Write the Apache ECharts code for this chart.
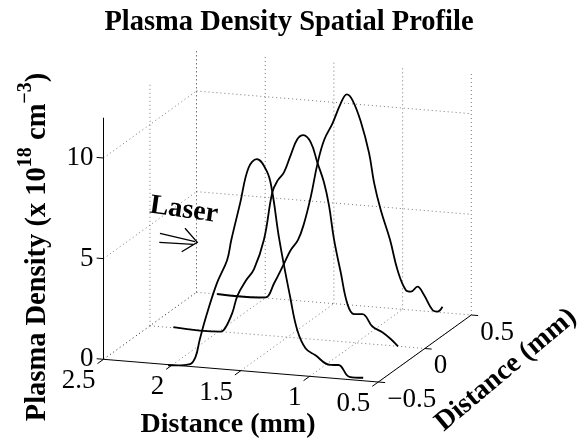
<!DOCTYPE html>
<html><head><meta charset="utf-8">
<style>html,body{margin:0;padding:0;background:#fff}#c{width:578px;height:438px}</style>
<script src="https://cdn.jsdelivr.net/npm/echarts@6/dist/echarts.min.js"></script>
</head><body><div id="c"></div>
<script>
// Data, as [distance along x (mm), density (1e18 cm^-3)]
const profileFront = [[2.03,-.03],[1.97,0],[1.87,.12],[1.83,.5],[1.8,1.36],[1.75,2.62],[1.675,4.24],[1.6,5.44],[1.57,6.45],[1.505,8.33],[1.445,10.1],[1.384,10.57],[1.31,9.99],[1.274,9.1],[1.22,6.65],[1.14,3.81],[1.09,2.25],[1.03,1.38],[.96,1.08],[.85,.65],[.79,.68],[.71,.14],[.61,.15]];
const profileMiddle = [[2.33,.03],[1.985,0],[1.95,.23],[1.9,1],[1.864,1.85],[1.803,2.63],[1.743,3.24],[1.67,4.77],[1.61,7.13],[1.573,7.72],[1.525,8.17],[1.476,9.06],[1.427,9.88],[1.384,10.1],[1.33,9.77],[1.282,8.8],[1.234,7.84],[1.197,6.7],[1.161,5.06],[1.112,3.44],[1.063,1.89],[1.015,1.42],[.954,1.45],[.881,.88],[.809,.63],[.748,.33],[.695,0]];
const profileBack = [[2.35,0],[2.044,0],[1.996,.03],[1.935,.77],[1.862,1.8],[1.814,2.49],[1.761,3.02],[1.717,3.87],[1.668,5.22],[1.619,6.9],[1.571,8.09],[1.51,8.95],[1.45,9.98],[1.406,10.45],[1.365,10.19],[1.304,9.15],[1.244,7.62],[1.207,6.15],[1.159,4.84],[1.091,3.39],[1.037,1.93],[.977,.97],[.94,.91],[.892,1.19],[.844,.8],[.782,.09],[.746,.03],[.71,.29]];
const profileDepths = [-0.5, 0, 0.5];
const xTicks = [2.5, 2, 1.5, 1, 0.5];
const yTicks = [-0.5, 0, 0.5];
const zTicks = [0, 5, 10];
const zTop = 12;
const xTickLabels = ['2.5','2','1.5','1','0.5'];
const yTickLabels = ['\u22120.5','0','0.5'];
const zTickLabels = ['0','5','10'];

// Oblique view of the 3D box
const view = {ox:103.5, oy:359.3, xx:137.4, xy:11.35, yx:93, yy:-67, zy:20.13};
function P(x,y,z){
  const a=2.5-x, b=y+0.5;
  return [view.ox+a*view.xx+b*view.yx, view.oy+a*view.xy+b*view.yy-z*view.zy];
}
const GRID='#555';
function seg(pts,color,width,type,z){
  return {type:'line',data:pts,symbol:'none',silent:true,animation:false,z:z||2,
    lineStyle:{color:color,width:width,type:type,cap:'butt'}};
}
const dash=[1,3];
const series=[];
const xMin=2.5,xMax=.5,yMin=-.5,yMax=.5;
// floor grid
xTicks.forEach(x=>{ if(x!==xMin) series.push(seg([P(x,yMin,0),P(x,yMax,0)],GRID,.8,dash)); });
series.push(seg([P(xMin,yMin,0),P(xMin,yMax,0)],'#222',1,dash));
yTicks.forEach(y=>{ if(y!==yMin) series.push(seg([P(xMin,y,0),P(xMax,y,0)],GRID,.8,dash)); });
// back wall and left wall
xTicks.forEach(x=>series.push(seg([P(x,yMax,0),P(x,yMax,zTop)],GRID,.8,dash)));
yTicks.forEach(y=>{ if(y!==yMin) series.push(seg([P(xMin,y,0),P(xMin,y,zTop)],GRID,.8,dash)); });
zTicks.forEach(z=>{ if(z>0){
  series.push(seg([P(xMin,yMin,z),P(xMin,yMax,z)],GRID,.8,dash));
  series.push(seg([P(xMin,yMax,z),P(xMax,yMax,z)],GRID,.8,dash));
}});
// axes
series.push(seg([P(xMin,yMin,0),P(xMax,yMin,0)],'#000',1,'solid',3));
series.push(seg([P(xMax,yMin,0),P(xMax,yMax,0)],'#000',1,'solid',3));
series.push(seg([P(xMin,yMin,0),P(xMin,yMin,zTop)],'#000',1,'solid',3));
// ticks
xTicks.forEach(x=>series.push(seg([P(x,yMin,0),P(x,yMin-.065,0)],'#000',1,'solid',3)));
yTicks.forEach(y=>series.push(seg([P(xMax,y,0),P(xMax-.05,y,0)],'#000',1,'solid',3)));
zTicks.forEach(z=>series.push(seg([P(xMin,yMin,z),P(xMin+.05,yMin,z)],'#000',1,'solid',3)));
// curves
[profileFront,profileMiddle,profileBack].forEach((c,i)=>{
  const s=seg(c.map(d=>P(d[0],profileDepths[i],d[1])),'#000',1.8,'solid',5);
  s.smooth=0.4; s.name='profile'+i; s.lineStyle.join='round';
  series.push(s);
});
// text
const TF='"Liberation Serif","Times New Roman",serif';
function labels(items){
  return {type:'scatter',silent:true,animation:false,symbolSize:1,itemStyle:{color:'transparent',opacity:1},z:6,
    data:items.map(t=>({value:t.pos,label:{show:true,position:'inside',formatter:t.text,color:'#000',
      fontFamily:TF,fontSize:t.size||27,fontWeight:t.bold?'bold':'normal',rotate:t.rotate||0,align:t.align||'center',verticalAlign:'middle',
      rich:t.rich}}))};
}
const items=[];
xTicks.forEach((x,i)=>{const p=P(x,yMin,0);items.push({pos:[p[0]-8,p[1]+22],text:xTickLabels[i],align:'right'});});
yTicks.forEach((y,i)=>{const p=P(xMax,y,0);items.push({pos:[p[0]+9,p[1]+17.5],text:yTickLabels[i],align:'left'});});
zTicks.forEach((z,i)=>{const p=P(xMin,yMin,z);items.push({pos:[p[0]-10,p[1]],text:zTickLabels[i],align:'right'});});
series.push(labels(items));
series.push(labels([
  {pos:[184,210],text:'Laser',size:28,bold:true,rotate:-8},
  {pos:[228,425],text:'Distance (mm)',size:28,bold:true},
  {pos:[506,370],text:'Distance (mm)',size:28,bold:true,rotate:40},
  {pos:[38,247],text:'Plasma Density (x 10{s|18} cm{s|\u22123})',size:28.5,bold:true,rotate:90,rich:{s:{fontSize:20,fontWeight:'bold',fontFamily:TF,verticalAlign:'top',padding:[0,0,24,0]}}}
]));

// hand-drawn double arrow next to the "Laser" note
const arrowStyle={stroke:'#000',lineWidth:1.3,fill:null};
const arrow=[
  [[160,233.3],[195,241.7]],
  [[159.3,242.3],[193.3,244.3]],
  [[185,228.3],[197.3,242.3],[181.7,251.7]]
].map(points=>({type:'polyline',silent:true,z:7,shape:{points:points},style:arrowStyle}));

const chart=echarts.init(document.getElementById('c'),null,{renderer:'canvas'});
chart.setOption({
  backgroundColor:'#fff',animation:false,
  title:{text:'Plasma Density Spatial Profile',left:284,top:3,textAlign:'center',
    textStyle:{fontFamily:TF,fontSize:28.5,fontWeight:'bold',color:'#000'}},
  grid:{left:0,right:0,top:0,bottom:0},
  xAxis:{type:'value',min:0,max:578,show:false},
  yAxis:{type:'value',min:0,max:438,inverse:true,show:false},
  graphic:{elements:arrow},
  series:series
});
</script></body></html>
